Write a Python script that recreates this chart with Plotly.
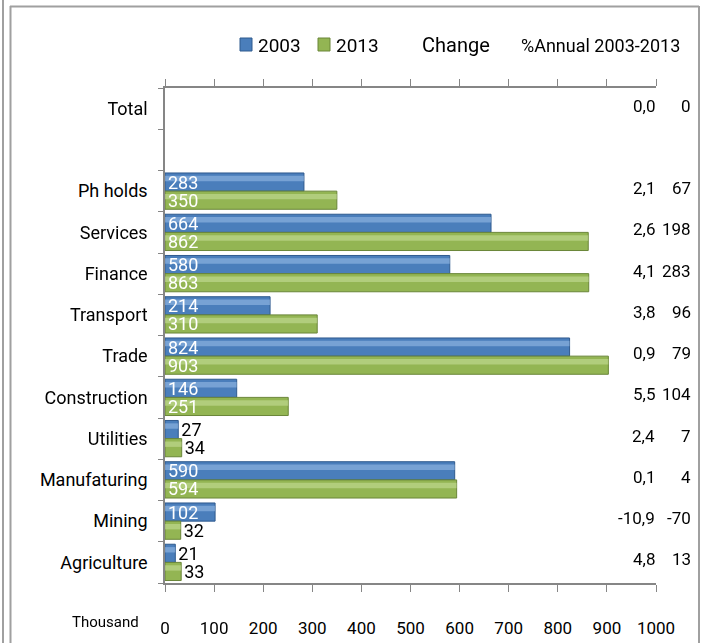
import plotly.graph_objects as go

# data, listed bottom to top
sectors = ["Agriculture", "Mining", "Manufaturing", "Utilities", "Construction",
           "Trade", "Transport", "Finance", "Services", "Ph holds", " ", "Total"]
v2003 = [21, 102, 590, 27, 146, 824, 214, 580, 664, 283, None, None]
v2013 = [33, 32, 594, 34, 251, 903, 310, 863, 862, 350, None, None]
change = ["13", "-70", "4", "7", "104", "79", "96", "283", "198", "67", "", "0"]
annual = ["4,8", "-10,9", "0,1", "2,4", "5,5", "0,9", "3,8", "4,1", "2,6", "2,1", "", "0,0"]

FONT = "Roboto, Open Sans, sans-serif"

# pixel geometry of the plot area (703 x 643 page)
L, R, T, B = 165, 656, 88, 583
BW = 0.44  # bar thickness in category units


def px(x):
    return (x - L) / (R - L)


def py(y):
    return (B - y) / (B - T)


def bar_text(vals):
    txt = [("" if v is None else str(v)) for v in vals]
    pos = [("inside" if (v or 0) >= 50 else "outside") for v in vals]
    return txt, pos


fig = go.Figure()

series = [("2003", v2003, 0.0, "#4A7EBB", "#9DC0EA", "#2F5A8E", 240),
          ("2013", v2013, -BW, "#93B553", "#CBE09E", "#6A8638", 318)]

# solid bars
for name, vals, off, col, light, edge, lx in series:
    fig.add_trace(go.Bar(
        name=name, y=sectors, x=vals, orientation="h", offset=off, width=BW,
        marker=dict(color=col, line=dict(color=edge, width=1)),
        hoverinfo="skip", showlegend=False,
    ))
# light band near the top of each bar for the glossy look
for name, vals, off, col, light, edge, lx in series:
    fig.add_trace(go.Bar(
        y=sectors, x=vals, orientation="h", offset=off + 0.24, width=0.13,
        marker=dict(color=light, line=dict(width=0)), opacity=0.55,
        showlegend=False, hoverinfo="skip",
    ))
# value labels
for name, vals, off, col, light, edge, lx in series:
    txt, pos = bar_text(vals)
    fig.add_trace(go.Bar(
        y=sectors, x=vals, orientation="h", offset=off, width=BW,
        marker=dict(color="rgba(0,0,0,0)", line=dict(width=0)),
        text=txt, textposition=pos, insidetextanchor="start",
        constraintext="none", cliponaxis=False, showlegend=False,
        insidetextfont=dict(color="white", size=18, family=FONT),
        outsidetextfont=dict(color="black", size=18, family=FONT),
        hovertemplate=name + ": %{x}<extra>%{y}</extra>",
    ))

# legend keys drawn by hand so they sit tight against their labels
for name, vals, off, col, light, edge, lx in series:
    fig.add_shape(type="rect", xref="paper", yref="paper",
                  x0=px(lx), x1=px(lx + 12), y0=py(51), y1=py(38),
                  fillcolor=col, line=dict(color=edge, width=1))
    fig.add_annotation(x=px(lx + 16), xref="paper", y=py(45), yref="paper",
                       text=name, showarrow=False, xanchor="left", yanchor="middle",
                       font=dict(size=19, color="black", family=FONT))

# right-hand columns
for s, a, c in zip(sectors, annual, change):
    fig.add_annotation(x=px(657), xref="paper", y=s, yref="y", text=a,
                       showarrow=False, xanchor="right", yshift=3,
                       font=dict(size=17, color="black", family=FONT))
    fig.add_annotation(x=px(693), xref="paper", y=s, yref="y", text=c,
                       showarrow=False, xanchor="right", yshift=3,
                       font=dict(size=17, color="black", family=FONT))

fig.add_annotation(x=px(420), xref="paper", y=py(45), yref="paper", text="Change",
                   showarrow=False, xanchor="left", yanchor="middle",
                   font=dict(size=20, color="black", family=FONT))
fig.add_annotation(x=px(519), xref="paper", y=py(46), yref="paper",
                   text="%Annual 2003-2013", showarrow=False, xanchor="left",
                   yanchor="middle",
                   font=dict(size=18, color="black", family=FONT))
fig.add_annotation(x=px(141), xref="paper", y=py(622), yref="paper", text="Thousand",
                   showarrow=False, xanchor="right", yanchor="middle",
                   font=dict(size=15, color="black", family=FONT))

# outer frame
frame = dict(color="#A0A0A0", width=2)
fig.add_shape(type="line", xref="paper", yref="paper", x0=px(3), x1=px(3),
              y0=py(0), y1=py(643), line=frame)
fig.add_shape(type="line", xref="paper", yref="paper", x0=px(10.5), x1=px(10.5),
              y0=py(6), y1=py(643), line=frame)
fig.add_shape(type="line", xref="paper", yref="paper", x0=px(10), x1=px(699),
              y0=py(6.5), y1=py(6.5), line=frame)
fig.add_shape(type="line", xref="paper", yref="paper", x0=px(699), x1=px(699),
              y0=py(6), y1=py(643), line=frame)

fig.update_layout(
    width=703, height=643,
    margin=dict(l=L, r=703 - R, t=T, b=643 - B),
    paper_bgcolor="white", plot_bgcolor="white",
    barmode="overlay", showlegend=False,
    font=dict(family=FONT, color="black"),
    xaxis=dict(range=[0, 1000], dtick=100, showgrid=False, zeroline=False,
               showline=True, linecolor="#868686", linewidth=1.5, mirror="ticks",
               ticks="outside", ticklen=7, tickcolor="#868686", automargin=False,
               ticklabelstandoff=22, tickfont=dict(size=17, family=FONT)),
    yaxis=dict(categoryorder="array", categoryarray=sectors,
               range=[-0.5, len(sectors) - 0.5], showgrid=False, automargin=False,
               showline=True, linecolor="#868686", linewidth=1.5,
               ticks="outside", ticklen=5, tickcolor="#868686",
               tickson="boundaries", ticklabelstandoff=12,
               tickfont=dict(size=18, family=FONT)),
)

# page body margin would shift the figure by 8px
fig.write_html("out.html", config={"displayModeBar": False},
               post_script="document.body.style.margin='0';")
